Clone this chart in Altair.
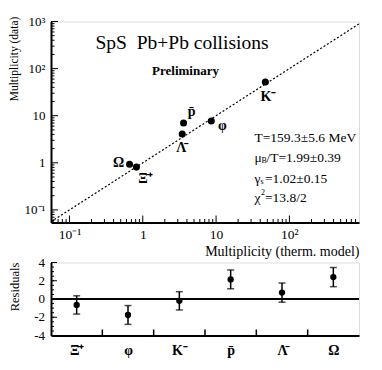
import json
import altair as alt
import pandas as pd

# ---------------- data ----------------
particles = ["Ω", "Ξ̄⁺", "Λ̄", "p̄", "φ", "K⁻"]
model_mult = [0.66, 0.82, 3.45, 3.6, 8.6, 47.0]
data_mult = [0.93, 0.81, 4.1, 7.0, 7.7, 52.0]

res_particles = ["Ξ̄⁺", "φ", "K⁻", "p̄", "Λ̄", "Ω"]
res_values = [-0.65, -1.75, -0.2, 2.15, 0.7, 2.4]
res_errors = [1.0, 1.03, 1.0, 1.03, 1.05, 1.05]

x_ticks = [0.1, 1, 10, 100]
x_tick_labels = ["10⁻¹", "1", "10", "10²"]
y_ticks = [0.1, 1, 10, 100, 1000]
y_tick_labels = ["10⁻¹", "1", "10", "10²", "10³"]
res_ticks = [-4, -2, 0, 2, 4]
res_tick_labels = ["-4", "-2", "0", "2", "4"]
x_domain = [0.056, 890]
y_domain = [0.054, 1000]
res_domain = [-4, 4]

title_text = "SpS\u2002Pb+Pb collisions"
prelim_text = "Preliminary"

# ---------------- styling ----------------
FONT = "Liberation Serif"
W, H1, H2 = 308, 201, 73
label_off = {"Ω": (-11, -1), "Ξ̄⁺": (9, 12), "Λ̄": (-1, 14), "p̄": (8, -11),
             "φ": (11, 5), "K⁻": (3, 15)}


def expr_from(values, labels):
    e = "''"
    for v, l in reversed(list(zip(values, labels))):
        e = f"abs(datum.value-({v}))<{abs(v) * 0.01 + 1e-6} ? '{l}' : ({e})"
    return e


xs = alt.Scale(type="log", domain=x_domain, nice=False)
ys = alt.Scale(type="log", domain=y_domain, nice=False)

top_df = pd.DataFrame({"p": particles, "m": model_mult, "d": data_mult})

x_axis = alt.Axis(values=x_ticks, labelExpr=expr_from(x_ticks, x_tick_labels),
                  ticks=False, grid=False, domainWidth=2, domainColor="black",
                  labelFont=FONT, labelFontSize=13.5, labelColor="black", labelPadding=5,
                  labelOverlap=False,
                  title="Multiplicity (therm. model)", titleAnchor="end",
                  titleFont=FONT, titleFontSize=14, titleFontWeight="normal",
                  titleColor="black", titlePadding=3)
y_axis = alt.Axis(values=y_ticks, labelExpr=expr_from(y_ticks, y_tick_labels),
                  ticks=False, grid=False, domainWidth=2, domainColor="black",
                  labelFont=FONT, labelFontSize=13, labelColor="black", labelPadding=6,
                  labelOverlap=False,
                  title="Multiplicity (data)", titleFont=FONT, titleFontSize=11.5,
                  titleFontWeight="normal", titleColor="black",
                  titleX=-36.5, titleY=37, titleAlign="center", titleBaseline="middle",
                  titleAngle=-90)

diag = alt.Chart(pd.DataFrame({"v": x_domain})).mark_line(
    color="black", strokeDash=[2, 2], strokeWidth=1.2, clip=True
).encode(x=alt.X("v:Q", scale=xs, axis=x_axis), y=alt.Y("v:Q", scale=ys, axis=y_axis))

pts = alt.Chart(top_df).mark_point(filled=True, color="black", size=50, opacity=1).encode(
    x=alt.X("m:Q", scale=xs), y=alt.Y("d:Q", scale=ys))

labels = []
for p, (dx, dy) in label_off.items():
    labels.append(
        alt.Chart(top_df).transform_filter(alt.datum.p == p).mark_text(
            font=FONT, fontSize=14, color="black", dx=dx, dy=dy, baseline="middle",
            align="center", fontWeight="bold"
        ).encode(x=alt.X("m:Q", scale=xs), y=alt.Y("d:Q", scale=ys), text="p:N"))

# minor / major inward ticks
dec = [-2, -1, 0, 1, 2, 3]
minor = [m * 10 ** k for k in dec for m in range(2, 10)]
major = [10 ** k for k in dec]
xmin = [v for v in minor if x_domain[0] <= v <= x_domain[1]]
xmaj = [v for v in major if x_domain[0] <= v <= x_domain[1]]
ymin = [v for v in minor if y_domain[0] <= v <= y_domain[1]]
ymaj = [v for v in major if y_domain[0] <= v <= y_domain[1]]


def xticks(vals, ln):
    return alt.Chart(pd.DataFrame({"t": vals})).mark_rule(color="black", strokeWidth=1).encode(
        x=alt.X("t:Q", scale=xs), y=alt.value(H1), y2=alt.value(H1 - ln))


def yticks(vals, ln):
    return alt.Chart(pd.DataFrame({"t": vals})).mark_rule(color="black", strokeWidth=1).encode(
        y=alt.Y("t:Q", scale=ys), x=alt.value(0), x2=alt.value(ln))


fit_pieces = [
    # (text, x, y, size)
    ("T=159.3±5.6 MeV", 203.5, 116, 13.5),
    ("μ", 203.5, 136, 13.5), ("B", 210.5, 139, 8), ("/T=1.99±0.39", 215.5, 136, 13.5),
    ("γ", 203.5, 157, 13.5), ("s", 209.5, 160, 8), ("=1.02±0.15", 214, 157, 13.5),
    ("χ", 203.5, 176, 13.5), ("2", 210, 171, 8), ("=13.8/2", 214, 176, 13.5),
]
ann = []
for t, x, y, s in fit_pieces:
    ann.append(alt.Chart(pd.DataFrame({"t": [t]})).mark_text(
        font=FONT, color="black", align="left", baseline="middle", fontSize=s
    ).encode(text="t:N", x=alt.value(x), y=alt.value(y)))
ann.append(alt.Chart(pd.DataFrame({"t": [title_text]})).mark_text(
    font=FONT, fontSize=19.5, color="black", align="center", baseline="middle"
).encode(text="t:N", x=alt.value(131), y=alt.value(21)))
ann.append(alt.Chart(pd.DataFrame({"t": [prelim_text]})).mark_text(
    font=FONT, fontSize=13, fontWeight="bold", color="black", align="center", baseline="middle"
).encode(text="t:N", x=alt.value(134.5), y=alt.value(49)))

top = alt.layer(diag, pts, *labels, xticks(xmin, 3.5), xticks(xmaj, 7),
                yticks(ymin, 3.5), yticks(ymaj, 7), *ann).properties(width=W, height=H1)

# ---------------- residual panel ----------------
res_df = pd.DataFrame({"i": list(range(len(res_particles))), "p": res_particles,
                       "r": res_values, "e": res_errors})
res_df["lo"] = res_df["r"] - res_df["e"]
res_df["hi"] = res_df["r"] + res_df["e"]

bx = alt.Scale(domain=[-0.5, len(res_particles) - 0.5], nice=False, zero=False)
by = alt.Scale(domain=res_domain, nice=False, zero=False)
bx_axis = alt.Axis(values=list(range(len(res_particles))),
                   labelExpr=json.dumps(res_particles, ensure_ascii=False) + "[datum.value]",
                   ticks=False, grid=False, domainWidth=2, domainColor="black", title=None,
                   labelFont=FONT, labelFontSize=14, labelColor="black", labelPadding=8,
                   labelFontWeight="bold", labelOverlap=False)
by_axis = alt.Axis(values=res_ticks, labels=False, ticks=False, grid=False, domainWidth=2,
                   domainColor="black",
                   title="Residuals", titleFont=FONT,
                   titleFontSize=12.5, titleFontWeight="normal", titleColor="black",
                   titleX=-36.5, titleY=24, titleAlign="center", titleBaseline="middle",
                   titleAngle=-90)

bars = alt.Chart(res_df).mark_rule(color="black", strokeWidth=1.5).encode(
    x=alt.X("i:Q", scale=bx, axis=bx_axis), y=alt.Y("lo:Q", scale=by, axis=by_axis), y2="hi:Q")
zero = alt.Chart(pd.DataFrame({"z": [0]})).mark_rule(color="black", strokeWidth=2).encode(
    y=alt.Y("z:Q", scale=by))
cap_lo = alt.Chart(res_df).mark_tick(color="black", orient="horizontal", size=7,
                                     thickness=1.5).encode(
    x=alt.X("i:Q", scale=bx), y=alt.Y("lo:Q", scale=by))
cap_hi = alt.Chart(res_df).mark_tick(color="black", orient="horizontal", size=7,
                                     thickness=1.5).encode(
    x=alt.X("i:Q", scale=bx), y=alt.Y("hi:Q", scale=by))
rpts = alt.Chart(res_df).mark_point(filled=True, color="black", size=40, opacity=1).encode(
    x=alt.X("i:Q", scale=bx), y=alt.Y("r:Q", scale=by))

ylab_df = pd.DataFrame({"v": res_ticks, "l": res_tick_labels})
ylabs = alt.Chart(ylab_df).mark_text(font=FONT, fontSize=13, color="black", align="right",
                                     baseline="middle").encode(
    y=alt.Y("v:Q", scale=by), x=alt.value(-6), text="l:N")

bounds = [i + 0.5 for i in range(len(res_particles) - 1)]
btick = alt.Chart(pd.DataFrame({"t": bounds})).mark_rule(color="black", strokeWidth=1.5).encode(
    x=alt.X("t:Q", scale=bx), y=alt.value(H2), y2=alt.value(H2 - 6))
rminor = [v / 2 for v in range(-8, 9)]
rtick_min = alt.Chart(pd.DataFrame({"t": rminor})).mark_rule(color="black", strokeWidth=1).encode(
    y=alt.Y("t:Q", scale=by), x=alt.value(0), x2=alt.value(3))
rtick_maj = alt.Chart(pd.DataFrame({"t": res_ticks})).mark_rule(color="black", strokeWidth=1).encode(
    y=alt.Y("t:Q", scale=by), x=alt.value(0), x2=alt.value(6))

bottom = alt.layer(bars, zero, cap_lo, cap_hi, rpts, ylabs, btick, rtick_min,
                   rtick_maj).properties(width=W, height=H2)

chart = alt.vconcat(top, bottom, spacing=40, bounds="flush").properties(
    padding={"left": 0, "top": 6.5, "right": 5, "bottom": 5}
).configure_view(stroke="black", strokeWidth=1).configure(background="white")

chart.save("out.html", embed_options={"renderer": "svg", "actions": False})
